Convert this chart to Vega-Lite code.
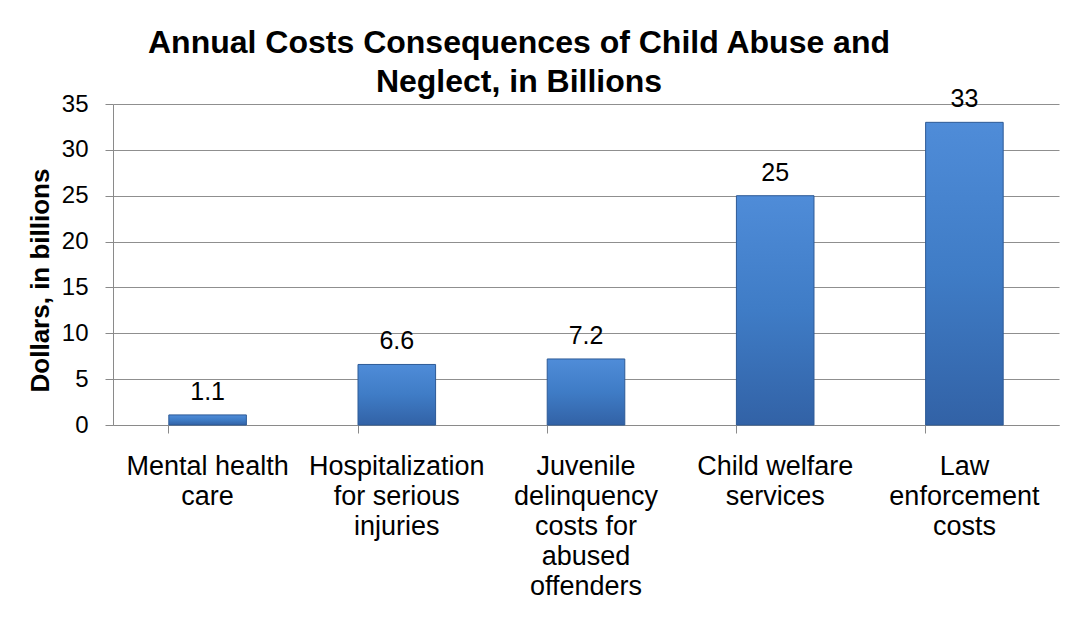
{
  "$schema": "https://vega.github.io/schema/vega-lite/v6.json",
  "width": 946,
  "height": 321,
  "autosize": {"type": "none"},
  "padding": {"left": 113, "top": 104, "right": 10, "bottom": 198},
  "background": "white",
  "title": {
    "text": ["Annual Costs Consequences of Child Abuse and", "Neglect, in Billions"],
    "font": "Liberation Sans",
    "fontSize": 32,
    "fontWeight": "bold",
    "color": "black",
    "anchor": "middle",
    "dx": -67,
    "dy": 26,
    "offset": 14,
    "lineHeight": 39
  },
  "config": {
    "view": {"stroke": null},
    "font": "Liberation Sans"
  },
  "data": {
    "values": [
      {"category": "Mental health|care", "value": 1.1, "label": "1.1"},
      {"category": "Hospitalization|for serious|injuries", "value": 6.6, "label": "6.6"},
      {"category": "Juvenile|delinquency|costs for|abused|offenders", "value": 7.2, "label": "7.2"},
      {"category": "Child welfare|services", "value": 25, "label": "25"},
      {"category": "Law|enforcement|costs", "value": 33, "label": "33"}
    ]
  },
  "encoding": {
    "x": {
      "field": "category",
      "type": "nominal",
      "sort": null,
      "scale": {"paddingInner": 0.59, "paddingOuter": 0.295},
      "axis": {
        "title": null,
        "labelAngle": 0,
        "labelExpr": "split(datum.value, '|')",
        "labelFontSize": 27,
        "labelColor": "black",
        "labelLineHeight": 30,
        "labelPadding": 20,
        "labelBaseline": "top",
        "bandPosition": 0,
        "ticks": true,
        "tickSize": 8,
        "tickColor": "#8a8a8a",
        "domainColor": "#8a8a8a",
        "grid": false
      }
    },
    "y": {
      "field": "value",
      "type": "quantitative",
      "scale": {"domain": [0, 35], "nice": false},
      "axis": {
        "values": [0, 5, 10, 15, 20, 25, 30, 35],
        "title": "Dollars, in billions",
        "titleFontSize": 26,
        "titleFontWeight": "bold",
        "titleColor": "black",
        "titleX": -73,
        "titleY": 176,
        "titleAngle": -90,
        "titleAlign": "center",
        "titleBaseline": "middle",
        "labelFontSize": 24,
        "labelColor": "black",
        "labelPadding": 17,
        "tickSize": 8,
        "tickColor": "#8a8a8a",
        "domainColor": "#8a8a8a",
        "gridColor": "#8f8f8f",
        "gridWidth": 1
      }
    }
  },
  "layer": [
    {
      "mark": {
        "type": "bar",
        "stroke": "#2d5a96",
        "strokeWidth": 1,
        "color": {
          "gradient": "linear",
          "x1": 0, "y1": 0, "x2": 0, "y2": 1,
          "stops": [
            {"offset": 0, "color": "#4f8cd8"},
            {"offset": 0.5, "color": "#3f7cc6"},
            {"offset": 1, "color": "#3262a6"}
          ]
        }
      }
    },
    {
      "mark": {
        "type": "text",
        "fontSize": 25,
        "color": "black",
        "baseline": "alphabetic",
        "dy": -15
      },
      "encoding": {
        "text": {"field": "label"}
      }
    }
  ]
}
